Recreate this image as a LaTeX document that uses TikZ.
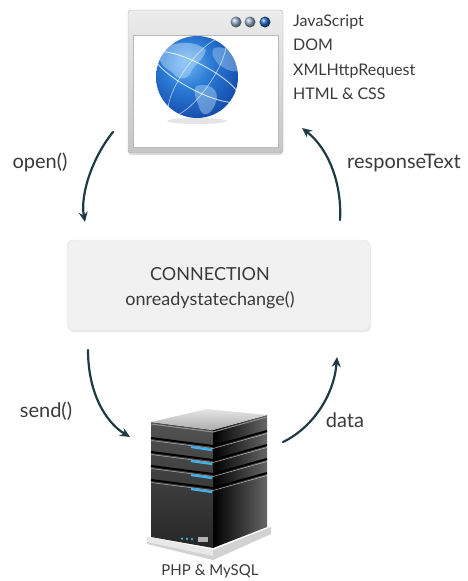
\documentclass[tikz,border=0pt]{standalone}
\usepackage{fontspec}
\setmainfont{Lato}
\usetikzlibrary{arrows.meta,shadows}
\definecolor{arrowcol}{HTML}{1E3B42}
\definecolor{textcol}{HTML}{3A3A3A}
\definecolor{globeblue}{HTML}{1F63B8}
\definecolor{globelight}{HTML}{B5DAF7}
\definecolor{boxfill}{HTML}{F1F1F1}
\definecolor{lightblue}{HTML}{3FB4F5}
\definecolor{dimdot}{HTML}{93A8C6}
\pgfdeclareradialshading{globeshade}{\pgfpoint{-8bp}{10bp}}{%
  color(0bp)=(rgb,255:red,120;green,185;blue,245);
  color(14bp)=(rgb,255:red,45;green,125;blue,215);
  color(30bp)=(rgb,255:red,22;green,80;blue,175);
  color(42bp)=(rgb,255:red,10;green,40;blue,110);
  color(60bp)=(rgb,255:red,10;green,40;blue,110)}
\tikzset{
  flow/.style={draw=arrowcol, line width=2.2pt, line cap=round,
    -{Stealth[length=10pt,width=9pt]}},
  lbl/.style={text=textcol, font=\fontsize{20}{24}\selectfont, inner sep=0pt},
  techlbl/.style={text=textcol, font=\fontsize{16}{19}\selectfont, inner sep=0pt, anchor=base west},
  frame/.style={draw=gray!65, rounded corners=3pt, top color=gray!15, bottom color=gray!45,
    minimum width=155pt, minimum height=143pt, inner sep=0pt,
    drop shadow={shadow xshift=0pt, shadow yshift=-2pt, opacity=0.25}},
  connbox/.style={draw=gray!20, fill=boxfill, rounded corners=6pt,
    minimum width=303pt, minimum height=90pt, inner sep=0pt,
    drop shadow={shadow xshift=1pt, shadow yshift=-2pt, opacity=0.18}},
  dot/.style={circle, minimum size=11pt, inner sep=0pt}
}
\begin{document}
\begin{tikzpicture}[x=1pt,y=-1pt]
\useasboundingbox (0,0) rectangle (467,581);

% ---------- browser window ----------
\node[frame] (browser) at (205.5,81.5) {};
\fill[white] (133,35) rectangle (278,147);
\draw[gray!55, line width=0.6pt] (133,35) rectangle (278,147);
\node[dot, ball color=dimdot] (b1) at (236,22) {};
\node[dot, ball color=dimdot] (b2) at (250,22) {};
\node[dot, ball color=globeblue] (b3) at (265,22) {};

% globe
\fill[gray!45, opacity=0.45] (197,121) ellipse [x radius=30, y radius=3];
\shade[shading=globeshade] (197,77) circle (41);
\begin{scope}
  \clip (197,77) circle (41);
  \fill[globelight, opacity=0.5]
    (160,52) .. controls (172,40) and (196,40) .. (206,50)
    .. controls (204,60) and (194,64) .. (190,74)
    .. controls (184,82) and (176,78) .. (172,72)
    .. controls (166,68) and (158,66) .. cycle;
  \fill[globelight, opacity=0.45]
    (196,86) .. controls (210,82) and (220,90) .. (216,102)
    .. controls (212,114) and (204,118) .. (200,110)
    .. controls (198,102) and (192,94) .. cycle;
  \fill[globelight, opacity=0.4]
    (214,48) .. controls (226,44) and (238,56) .. (240,70)
    .. controls (232,74) and (224,68) .. (218,64)
    .. controls (214,58) and (210,54) .. cycle;
  \draw[white, opacity=0.75, line width=0.9pt]
    (197,77) ellipse [x radius=48, y radius=13, rotate=-28];
  \draw[white, opacity=0.6, line width=0.7pt]
    (197,77) ellipse [x radius=14, y radius=46, rotate=-35];
\end{scope}

% ---------- technology list ----------
\node[techlbl] (js)   at (293,26) {JavaScript};
\node[techlbl] (dom)  at (293,50) {DOM};
\node[techlbl] (xhr)  at (293,75) {XMLHttpRequest};
\node[techlbl] (html) at (293,99) {HTML \& CSS};

% ---------- connection box ----------
\node[connbox] (conn) at (218.5,285) {};
\node[text=textcol, font=\fontsize{18}{25}\selectfont, align=center, inner sep=0pt]
  (conntext) at (210,288) {CONNECTION\\onreadystatechange()};

% ---------- server ----------
\node[minimum width=120pt, minimum height=150pt, inner sep=0pt] (server) at (209,485) {};
% plinth
\fill[gray!35] (147,537) -- (213,550) -- (271,527) -- (271,534) -- (213,560) -- (147,544) -- cycle;
\fill[gray!18] (147,537) -- (213,550) -- (213,556) -- (147,542) -- cycle;
% side face
\shade[left color=black, right color=gray!80!black] (213,430) -- (267,415) -- (267,527) -- (213,548) -- cycle;
% front face
\shade[top color=gray!65!black, bottom color=black!85] (151,422) -- (213,430) -- (213,548) -- (151,537) -- cycle;
% top face
\shade[top color=gray!20, bottom color=gray!65] (151,422) -- (207,409) -- (267,415) -- (213,430) -- cycle;
\draw[gray!85, line width=1pt] (151,424) -- (213,432) -- (267,417);
% drive bays
\foreach \i in {0,1,2,3} {
  \draw[black, line width=2pt] (151,{438+14*\i}) -- (213,{446+14*\i});
  \draw[gray!60, line width=0.5pt] (151,{440.5+14*\i}) -- (213,{448.5+14*\i});
  \draw[black, line width=2pt] (213,{446+14*\i}) -- (267,{431+14*\i});
  \draw[gray!55, line width=0.5pt] (213,{448.5+14*\i}) -- (267,{433.5+14*\i});
  \draw[lightblue, line width=2.2pt] (191,{447+14*\i}) -- (212,{450+14*\i});
}
% power lights
\foreach \x in {182,187,192}
  \fill[lightblue] (\x,{537+(\x-151)*0.05}) circle (1.3);
\fill[gray!60] (198,537) rectangle (208,542);
\node[text=textcol, font=\fontsize{15}{18}\selectfont, inner sep=0pt, anchor=base]
  (serverlbl) at (210,575) {PHP \& MySQL};

% ---------- arrows ----------
\coordinate (openA) at (113,132);
\coordinate (openB) at (85,222);
\coordinate (respA) at (340,220);
\coordinate (respB) at (302,128);
\coordinate (sendA) at (88,350);
\coordinate (sendB) at (130,437);
\coordinate (dataA) at (283,442);
\coordinate (dataB) at (337,357);

\draw[flow] (openA) .. controls (92,158) and (80,195) .. (openB);
\draw[flow] (respA) .. controls (342,186) and (330,150) .. (respB);
\draw[flow] (sendA) .. controls (88,392) and (105,422) .. (sendB);
\draw[flow] (dataA) .. controls (312,428) and (334,396) .. (dataB);

\node[lbl, anchor=base] (openlbl) at (40,168) {open()};
\node[lbl, anchor=base] (resplbl) at (404,168) {responseText};
\node[lbl, anchor=base] (sendlbl) at (46,417) {send()};
\node[lbl, anchor=base] (datalbl) at (345,427) {data};
\end{tikzpicture}
\end{document}
